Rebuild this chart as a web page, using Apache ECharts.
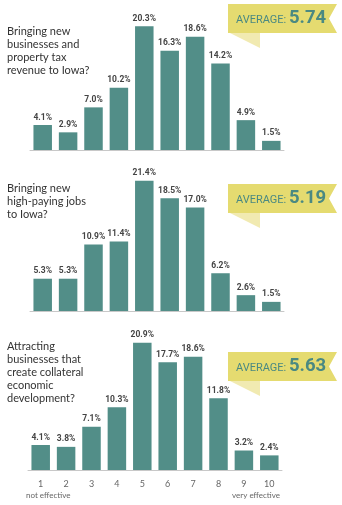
<!DOCTYPE html>
<html>
<head>
<meta charset="utf-8">
<script src="https://cdn.jsdelivr.net/npm/echarts@6/dist/echarts.min.js"></script>
<style>
html,body{margin:0;padding:0;background:#fff;}
#c{width:342px;height:505px;}
</style>
</head>
<body>
<div id="c"></div>
<script>
const categories = ['1','2','3','4','5','6','7','8','9','10'];
const seriesBusinesses = [4.1, 2.9, 7.0, 10.2, 20.3, 16.3, 18.6, 14.2, 4.9, 1.5];
const seriesJobs = [5.3, 5.3, 10.9, 11.4, 21.4, 18.5, 17.0, 6.2, 2.6, 1.5];
const seriesCollateral = [4.1, 3.8, 7.1, 10.3, 20.9, 17.7, 18.6, 11.8, 3.2, 2.4];
const averages = ['5.74', '5.19', '5.63'];
const questions = [
  'Bringing new\nbusinesses and\nproperty tax\nrevenue to Iowa?',
  'Bringing new\nhigh-paying jobs\nto Iowa?',
  'Attracting\nbusinesses that\ncreate collateral\neconomic\ndevelopment?'
];
const scaleLabels = ['not effective', 'very effective'];

const allSeries = [seriesBusinesses, seriesJobs, seriesCollateral];
const gridTops = [16, 177, 336];
const gridLefts = [30, 30, 28];
const titleTops = [25, 182, 340];
const badgeTops = [4, 184, 352];
const FONT = 'Lato, "Open Sans", sans-serif';
const BAR = '#528e88';
const TEAL = '#4a8982';

const chart = echarts.init(document.getElementById('c'), null, {renderer: 'canvas'});

const grid = [], xAxis = [], yAxis = [], series = [], graphic = [];
for (let i = 0; i < 3; i++) {
  grid.push({left: gridLefts[i], width: 254, top: gridTops[i], height: 134, containLabel: false});
  xAxis.push({
    type: 'category', gridIndex: i, data: categories, offset: 1,
    axisLine: {show: true, lineStyle: {color: '#c8c8c8', width: 1}},
    axisTick: {show: false},
    axisLabel: {show: i === 2, color: '#666', fontSize: 9, fontFamily: FONT, margin: 9}
  });
  yAxis.push({type: 'value', gridIndex: i, min: 0, max: 22, show: false});
  series.push({
    type: 'bar', xAxisIndex: i, yAxisIndex: i, data: allSeries[i],
    barWidth: 18.5,
    itemStyle: {color: BAR},
    label: {
      show: true, position: 'top', distance: 3,
      formatter: p => p.value.toFixed(1) + '%',
      color: '#444', fontSize: 8.5, fontWeight: 'bold', fontFamily: 'Roboto, sans-serif'
    },
    silent: true, animation: false
  });
  graphic.push({
    type: 'text', left: 7, top: titleTops[i],
    style: {text: questions[i], fill: '#333', fontSize: 11, fontFamily: FONT, lineHeight: 12.9}
  });
  const t = badgeTops[i];
  graphic.push({
    type: 'polygon',
    shape: {points: [[230, t + 29], [260, t + 29], [260, t + 44]]},
    style: {fill: '#f1eab1'}
  });
  graphic.push({
    type: 'polygon',
    shape: {points: [[228, t], [337, t], [329, t + 14.5], [337, t + 29], [228, t + 29]]},
    style: {fill: '#e5db70'}
  });
  graphic.push({
    type: 'text', left: 236, top: t + 5,
    style: {
      rich: {
        a: {fontSize: 11, fill: TEAL, fontFamily: 'Roboto, sans-serif', verticalAlign: 'bottom', padding: [0, 0, 2, 0]},
        b: {fontSize: 18.5, fontWeight: 'bold', fill: TEAL, fontFamily: 'Roboto, sans-serif', verticalAlign: 'bottom'}
      },
      text: '{a|AVERAGE: }{b|' + averages[i] + '}'
    }
  });
}
graphic.push({type: 'text', left: 26, top: 491, style: {text: scaleLabels[0], fill: '#666', fontSize: 8, fontFamily: FONT}});
graphic.push({type: 'text', right: 62, top: 491, style: {text: scaleLabels[1], fill: '#666', fontSize: 8, fontFamily: FONT}});

chart.setOption({animation: false, grid, xAxis, yAxis, series, graphic});
</script>
</body>
</html>
